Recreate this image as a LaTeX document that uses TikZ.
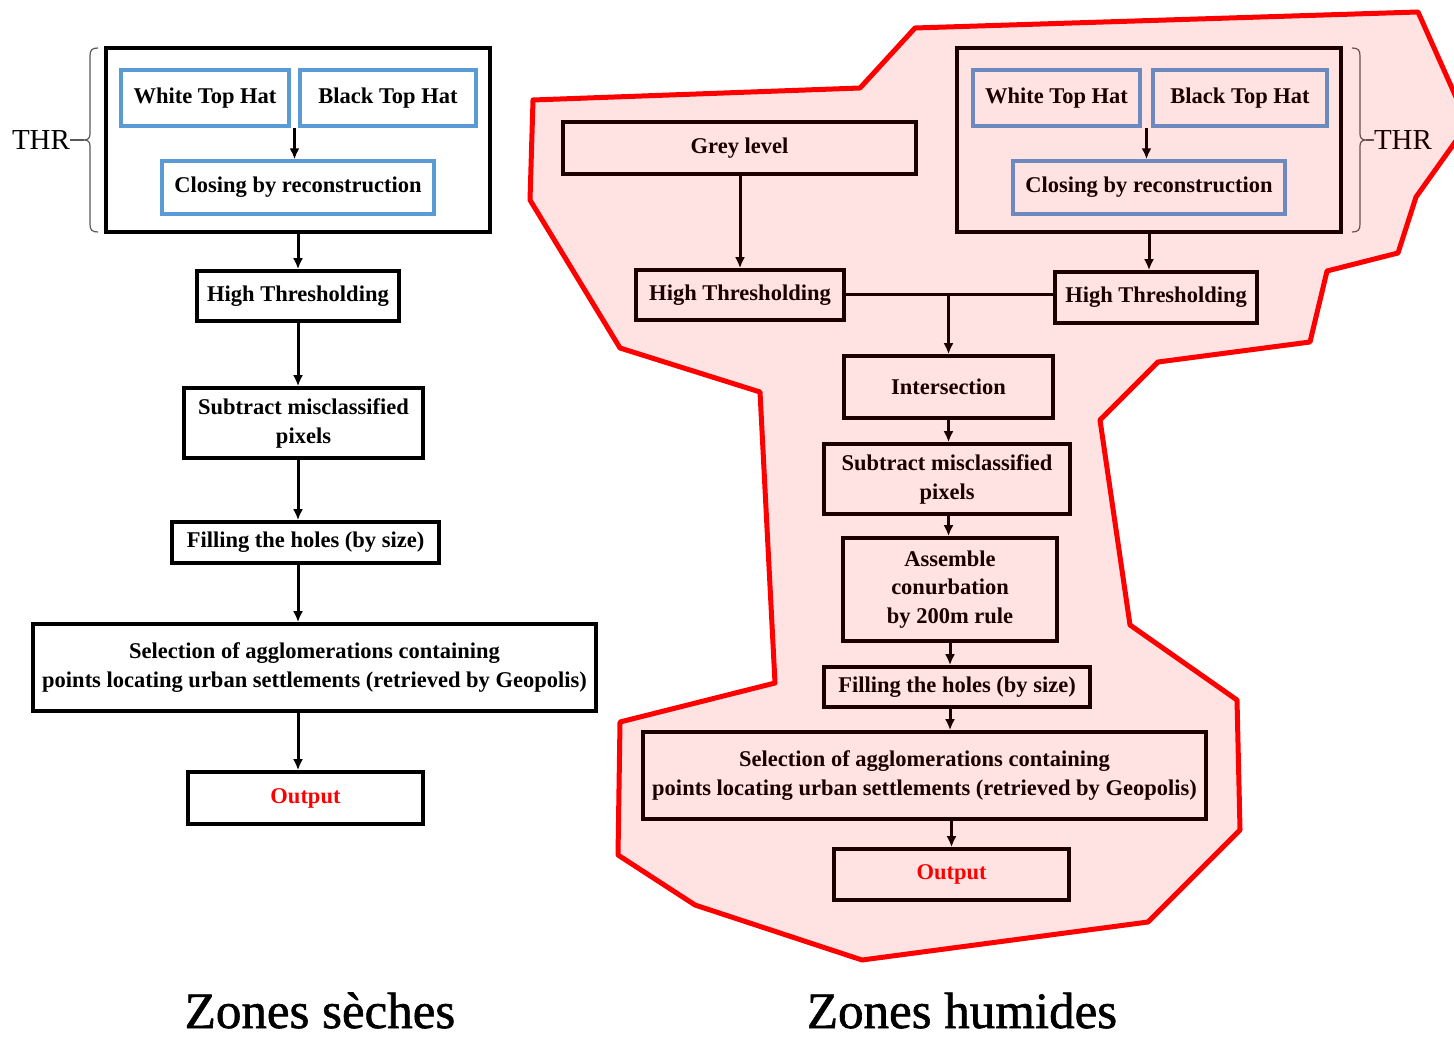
\documentclass[tikz,border=0pt]{standalone}
\usepackage{fontspec}
\setmainfont{Liberation Serif}
\newfontfamily\zonefont[FakeBold=1.2]{Liberation Serif}
\usetikzlibrary{arrows.meta,calc}
\definecolor{boxblue}{HTML}{5B9BD5}
\tikzset{
 box/.style={draw=black, line width=1.8pt, inner sep=0pt, align=center, font=\bfseries\fontsize{11.25}{14.5}\selectfont},
 bbox/.style={box, draw=boxblue, line width=1.7pt},
 arr/.style={line width=1.5pt, -{Latex[length=5.5pt,width=5pt]}},
 ln/.style={line width=1.5pt},
 brace/.style={draw=black!65, line width=0.6pt},
 thr/.style={font=\fontsize{14.5}{16}\selectfont, inner sep=0pt},
 zone/.style={font=\zonefont\fontsize{25.5}{28}\selectfont, inner sep=0pt},
 zonefill/.style={fill=red, fill opacity=0.11},
 zoneline/.style={draw=red, line width=2.5pt, line join=round}
}
\begin{document}
\begin{tikzpicture}[x=0.5pt,y=-0.5pt]
\useasboundingbox (0,0) rectangle (1454,1042);
% ---------------- left: Zones seches
\node[box, minimum width=192pt, minimum height=92pt] (outerL) at (298,140) {};
\node[bbox, minimum width=84pt, minimum height=28pt] (wthL) at (205,98) {White Top Hat};
\node[bbox, minimum width=88pt, minimum height=28pt] (bthL) at (388,98) {Black Top Hat};
\node[bbox, minimum width=136pt, minimum height=26.5pt] (crL) at (298,187.5) {Closing by reconstruction};
\node[box, minimum width=101pt, minimum height=25pt] (htL) at (298,296) {High Thresholding};
\node[box, minimum width=119.5pt, minimum height=35pt] (smL) at (303.5,423) {Subtract misclassified\\pixels};
\node[box, minimum width=133.5pt, minimum height=20.5pt] (fhL) at (305.5,542.5) {Filling the holes (by size)};
\node[box, minimum width=281.5pt, minimum height=43.5pt] (selL) at (314.5,667.5) {Selection of agglomerations containing\\points locating urban settlements (retrieved by Geopolis)};
\node[box, minimum width=117.5pt, minimum height=26pt, text=red] (outL) at (305.5,798) {Output};

\coordinate (jL) at ($(wthL.south east)!0.5!(bthL.south west)$);
\draw[arr] (jL) -- (jL |- crL.north);
\draw[arr] (outerL.south) -- (outerL.south |- htL.north);
\draw[arr] (htL.south) -- (htL.south |- smL.north);
\draw[arr] (htL.south |- smL.south) -- (htL.south |- fhL.north);
\draw[arr] (htL.south |- fhL.south) -- (htL.south |- selL.north);
\draw[arr] (outerL.south |- selL.south) -- (outerL.south |- outL.north);

\node[thr] (thrL) at (41,140) {THR};
\draw[brace] (98,48) .. controls (92,48) and (90,50) .. (90,56) -- (90,134) .. controls (90,138) and (88,140) .. (84,140) .. controls (88,140) and (90,142) .. (90,146) -- (90,224) .. controls (90,230) and (92,232) .. (98,232);
\draw[brace] (thrL.east) -- (84,140);

% ---------------- right: Zones humides
\node[box, minimum width=176.5pt, minimum height=26pt] (grey) at (739.5,148) {Grey level};
\node[box, minimum width=104pt, minimum height=25pt] (htRL) at (740,295) {High Thresholding};
\node[box, minimum width=192pt, minimum height=92pt] (outerR) at (1149,140) {};
\node[bbox, minimum width=83.5pt, minimum height=28pt] (wthR) at (1056.5,98) {White Top Hat};
\node[bbox, minimum width=87pt, minimum height=28pt] (bthR) at (1240,98) {Black Top Hat};
\node[bbox, minimum width=136pt, minimum height=26.5pt] (crR) at (1149,187.5) {Closing by reconstruction};
\node[box, minimum width=101pt, minimum height=25.5pt] (htRR) at (1156,297.5) {High Thresholding};
\node[box, minimum width=104.5pt, minimum height=31pt] (inter) at (948.5,387) {Intersection};
\node[box, minimum width=123pt, minimum height=35pt] (smR) at (947,479) {Subtract misclassified\\pixels};
\node[box, minimum width=107pt, minimum height=51.5pt, font=\bfseries\fontsize{11.25}{14.25}\selectfont] (asm) at (950,589.5) {Assemble\\conurbation\\by 200m rule};
\node[box, minimum width=133pt, minimum height=20pt] (fhR) at (957,687) {Filling the holes (by size)};
\node[box, minimum width=281.5pt, minimum height=43.5pt] (selR) at (924.5,775.5) {Selection of agglomerations containing\\points locating urban settlements (retrieved by Geopolis)};
\node[box, minimum width=117.5pt, minimum height=25.5pt, text=red] (outR) at (951.5,874.5) {Output};

\coordinate (jR) at ($(wthR.south east)!0.5!(bthR.south west)$);
\draw[arr] (jR) -- (jR |- crR.north);
\draw[arr] (htRL.north |- grey.south) -- (htRL.north);
\draw[arr] (outerR.south) -- (outerR.south |- htRR.north);
\coordinate (jI) at (inter.north |- htRL.east);
\draw[ln] (htRL.east) -- (jI) -- (jI -| htRR.west);
\draw[arr] (jI) -- (inter.north);
\draw[arr] (inter.south) -- (inter.south |- smR.north);
\draw[arr] (inter.south |- smR.south) -- (inter.south |- asm.north);
\draw[arr] (asm.south) -- (asm.south |- fhR.north);
\draw[arr] (asm.south |- fhR.south) -- (asm.south |- selR.north);
\draw[arr] (outR.north |- selR.south) -- (outR.north);

\node[thr] (thrR) at (1403,140) {THR};
\draw[brace] (1352,48) .. controls (1358,48) and (1360,50) .. (1360,56) -- (1360,134) .. controls (1360,138) and (1362,140) .. (1366,140) .. controls (1362,140) and (1360,142) .. (1360,146) -- (1360,224) .. controls (1360,230) and (1358,232) .. (1352,232);
\draw[brace] (thrR.west) -- (1366,140);

% ---------------- zone outline
\begin{scope}
\clip (0,0) rectangle (1454,1042);
\path[zonefill] (533,100) -- (860,88) -- (915,28) -- (1418,12) -- (1468,124) -- (1416,197) -- (1398,253) -- (1327,271) -- (1310,342) -- (1158,362) -- (1100,420) -- (1130,625) -- (1237,700) -- (1240,830) -- (1148,922) -- (862,960) -- (695,905) -- (618,855) -- (620,722) -- (775,683) -- (760,392) -- (620,348) -- (530,200) -- cycle;
\draw[zoneline] (533,100) -- (860,88) -- (915,28) -- (1418,12) -- (1468,124) -- (1416,197) -- (1398,253) -- (1327,271) -- (1310,342) -- (1158,362) -- (1100,420) -- (1130,625) -- (1237,700) -- (1240,830) -- (1148,922) -- (862,960) -- (695,905) -- (618,855) -- (620,722) -- (775,683) -- (760,392) -- (620,348) -- (530,200) -- cycle;
\end{scope}

% ---------------- titles
\node[zone, anchor=base] (zs) at (320,1028) {Zones sèches};
\node[zone, anchor=base] (zh) at (962,1028) {Zones humides};
\end{tikzpicture}
\end{document}
